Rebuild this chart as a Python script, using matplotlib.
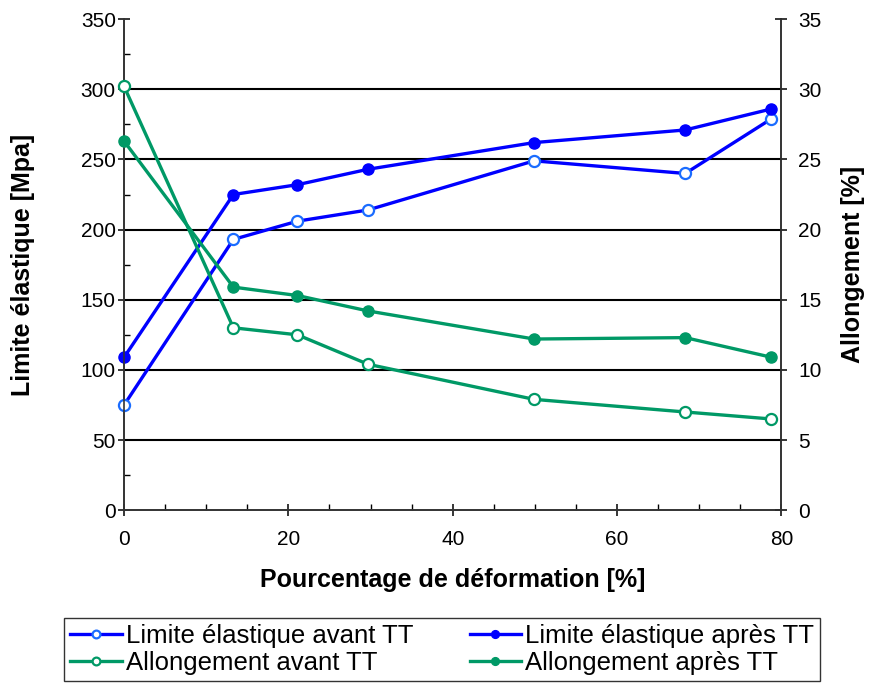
import matplotlib
matplotlib.use("Agg")
import matplotlib.pyplot as plt
from matplotlib.ticker import MultipleLocator

plt.rcParams["font.family"] = ["Liberation Sans", "DejaVu Sans"]

# Pourcentage de déformation [%]
deformation = [0, 13.3, 21.1, 29.7, 49.9, 68.3, 78.8]

# Limite élastique [Mpa]
limite_avant = [75, 193, 206, 214, 249, 240, 279]
limite_apres = [109, 225, 232, 243, 262, 271, 286]

# Allongement [%]
allong_avant = [30.2, 13.0, 12.5, 10.4, 7.9, 7.0, 6.5]
allong_apres = [26.3, 15.9, 15.3, 14.2, 12.2, 12.3, 10.9]

BLUE = "#0000FF"
BLUE_EDGE = "#1A6CFF"
GREEN = "#009966"

fig = plt.figure(figsize=(8.74, 6.83), dpi=100)
ax = fig.add_axes([0.142, 0.253, 0.752, 0.719])
ax2 = ax.twinx()

lw = 2.4
ms = 8

l1, = ax.plot(deformation, limite_avant, color=BLUE, lw=lw, marker="o", ms=ms,
              mfc="white", mec=BLUE_EDGE, mew=1.6, clip_on=False, zorder=5,
              label="Limite élastique avant TT")
l2, = ax.plot(deformation, limite_apres, color=BLUE, lw=lw, marker="o", ms=ms,
              mfc=BLUE, mec=BLUE, clip_on=False, zorder=5,
              label="Limite élastique après TT")
l3, = ax2.plot(deformation, allong_avant, color=GREEN, lw=lw, marker="o", ms=ms,
               mfc="white", mec=GREEN, mew=1.6, clip_on=False, zorder=5,
               label="Allongement avant TT")
l4, = ax2.plot(deformation, allong_apres, color=GREEN, lw=lw, marker="o", ms=ms,
               mfc=GREEN, mec=GREEN, clip_on=False, zorder=5,
               label="Allongement après TT")

ax.set_xlim(0, 80)
ax.set_ylim(0, 350)
ax2.set_ylim(0, 35)
ax.xaxis.set_major_locator(MultipleLocator(20))
ax.xaxis.set_minor_locator(MultipleLocator(5))
ax.yaxis.set_major_locator(MultipleLocator(50))
ax.yaxis.set_minor_locator(MultipleLocator(25))
ax2.yaxis.set_major_locator(MultipleLocator(5))

# horizontal gridlines (not at top or bottom)
for v in range(50, 350, 50):
    ax.axhline(v, color="black", lw=1.5, zorder=1)

for a in (ax, ax2):
    a.spines["top"].set_visible(False)
    for s in ("left", "right", "bottom"):
        a.spines[s].set_linewidth(1.2)
        a.spines[s].set_color("#333333")

ax.tick_params(axis="both", which="major", direction="inout", length=8, width=1.1,
               labelsize=15)
ax.tick_params(axis="y", which="major", pad=2)
ax.tick_params(axis="x", which="major", pad=10)
ax.tick_params(axis="both", which="minor", direction="in", length=4, width=1.0)
ax2.tick_params(axis="y", which="major", direction="inout", length=8, width=1.1,
                labelsize=15, pad=8)

ax.set_xlabel("Pourcentage de déformation [%]", fontsize=18, fontweight="bold",
              labelpad=14)
ax.set_ylabel("Limite élastique [Mpa]", fontsize=18, fontweight="bold", labelpad=33)
ax2.set_ylabel("Allongement [%]", fontsize=18, fontweight="bold", labelpad=14)

ax2.set_zorder(ax.get_zorder() + 1)
ax2.patch.set_visible(False)

leg = fig.legend(handles=[l1, l3, l2, l4], loc="lower center", ncol=2,
                 bbox_to_anchor=(0.506, 0.003), fontsize=18.5, frameon=True,
                 fancybox=False, edgecolor="black", handlelength=2.0,
                 handletextpad=0.15, columnspacing=2.2, borderpad=0.25,
                 labelspacing=0.1, markerscale=0.7, borderaxespad=0)
leg.get_frame().set_linewidth(1.0)

fig.savefig("out.png", dpi=100)
